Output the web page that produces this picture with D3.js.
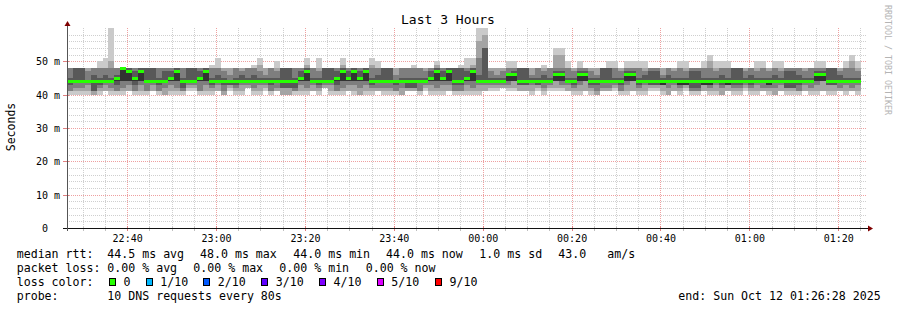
<!DOCTYPE html>
<html>
<head>
<meta charset="utf-8">
<script src="https://cdn.jsdelivr.net/npm/d3@7"></script>
<style>
  body { margin: 0; background: #fff; }
  svg { display: block; }
  text { font-family: "DejaVu Sans Mono", monospace; fill: #000; white-space: pre; }
</style>
</head>
<body>
<svg id="chart" width="897" height="310"></svg>
<script>
// window: last 3 hours, one probe round every 80s
var endTime = new Date(2025, 9, 12, 1, 26, 28);
var spanSec = 3 * 3600;
var stepSec = 80;

// 10 sorted DNS times per round (ms)
var pings = [
  "40 41 41 43 44 44 45 48 48 48", "40 41 42 44 44 44 48 48 48 48", "40 41 42 44 44 44 48 48 48 48",
  "40 41 43 44 44 44 44 47 48 48", "40 40 41 41 44 44 46 48 48 48", "40 41 42 43 44 44 45 48 48 50",
  "41 41 43 44 44 44 46 48 48 51", "40 41 42 44 44 44 45 48 50 60", "40 41 41 43 44 45 46 48 48 48",
  "40 41 42 44 44 48 48 48 48 48", "41 41 43 44 44 47 48 48 48 48", "40 41 41 43 44 45 47 48 48 48",
  "40 41 43 44 44 47 48 48 48 48", "40 41 41 44 44 44 48 48 48 48", "41 41 43 44 44 44 48 48 48 48",
  "40 41 41 43 44 44 45 48 48 48", "40 40 42 44 44 44 47 48 48 48", "40 41 43 44 44 45 47 48 48 48",
  "40 41 42 44 44 47 48 48 48 48", "40 41 41 42 44 44 45 48 48 48", "41 42 43 44 44 44 48 48 48 48",
  "41 42 43 44 44 44 48 48 48 48", "40 41 41 44 44 45 47 48 48 48", "40 41 43 44 44 47 48 48 48 48",
  "40 41 42 43 44 44 45 48 48 49", "41 41 43 44 44 44 46 48 48 51", "40 40 41 43 44 44 45 47 48 48",
  "41 42 43 43 44 44 44 46 48 48", "40 41 42 43 44 44 45 48 48 48", "40 41 43 44 44 44 46 47 48 48",
  "42 42 43 44 44 44 45 48 48 48", "40 41 42 44 44 44 46 48 48 49", "40 41 43 44 44 44 45 47 49 51",
  "41 42 43 44 44 44 45 46 48 48", "40 41 41 43 44 44 45 48 48 48", "41 41 42 44 44 44 45 47 48 50",
  "40 40 42 42 44 44 48 48 48 48", "40 40 42 42 44 44 48 48 48 48", "40 41 41 42 44 44 45 48 48 48",
  "40 41 43 44 44 45 47 48 48 48", "40 41 42 44 44 47 48 48 49 51", "41 41 43 44 44 44 45 48 48 48",
  "40 41 42 43 44 44 45 47 48 51", "42 42 43 44 44 44 48 48 48 48", "40 41 43 44 44 44 48 48 48 48",
  "40 41 41 43 44 45 47 48 48 48", "40 41 42 44 44 47 48 48 49 51", "41 41 43 44 44 45 47 48 48 48",
  "40 41 43 44 44 47 48 48 48 48", "40 40 42 44 44 45 47 48 48 48", "40 41 43 44 44 47 48 48 48 48",
  "40 41 42 43 44 44 45 48 49 51", "41 41 42 44 44 44 46 48 48 50", "40 41 42 44 44 44 48 48 48 48",
  "40 41 42 44 44 44 48 48 48 48", "40 41 41 43 44 44 44 46 48 48", "40 40 42 44 44 44 45 48 48 48",
  "41 41 42 42 44 44 45 48 48 48", "41 41 42 42 44 44 45 48 48 49", "40 41 41 44 44 44 45 48 48 48",
  "41 42 43 44 44 44 45 47 48 48", "40 41 43 44 44 45 47 48 48 48", "40 41 42 44 44 47 48 48 49 50",
  "40 41 43 44 44 45 47 48 48 48", "41 41 43 44 44 47 48 48 48 48", "40 41 41 43 44 44 48 48 48 48",
  "40 41 41 43 44 44 48 48 48 49", "40 41 43 44 44 45 47 48 48 51", "40 41 42 44 44 47 48 48 49 51",
  "40 41 43 44 44 44 46 51 56 60", "41 41 43 44 44 44 54 54 58 60", "41 42 43 44 44 44 45 47 48 48",
  "41 42 43 44 44 44 45 46 48 48", "42 42 43 44 44 44 45 47 48 48", "41 42 43 44 44 46 46 48 48 50",
  "41 42 44 44 44 46 47 48 48 50", "41 41 43 43 44 44 48 48 48 48", "41 41 43 43 44 44 48 48 48 48",
  "40 41 43 44 44 44 45 46 48 48", "41 42 43 43 44 44 45 48 48 48", "40 41 42 44 44 44 46 47 48 49",
  "41 42 43 44 44 44 45 48 48 48", "41 42 44 44 44 46 47 48 52 54", "41 42 43 44 44 46 47 48 52 54",
  "41 41 43 44 44 44 45 48 48 50", "40 41 42 43 44 44 45 47 48 48", "40 41 43 44 44 46 47 48 48 50",
  "41 41 44 44 44 46 47 48 48 48", "40 41 42 43 44 44 45 47 48 48", "40 40 41 43 44 44 45 46 48 48",
  "41 41 42 44 44 44 48 48 48 48", "41 41 42 44 44 44 48 48 48 50", "41 42 43 44 44 44 45 48 48 50",
  "40 41 41 43 44 44 45 47 48 48", "40 41 43 44 44 46 47 48 48 50", "41 41 44 44 44 46 47 48 48 50",
  "40 41 42 43 44 44 45 48 48 50", "40 41 43 44 44 44 46 47 48 50", "41 42 43 43 44 44 47 48 48 48",
  "41 42 43 43 44 44 47 48 48 48", "40 41 43 43 43 44 45 46 48 48", "40 40 42 44 44 44 46 48 48 48",
  "41 41 43 44 44 44 45 47 48 48", "40 41 42 43 43 44 45 48 48 50", "41 42 43 43 43 44 45 47 48 50",
  "40 41 41 42 44 44 47 48 48 48", "40 41 41 42 44 44 47 48 48 48", "41 41 43 43 43 44 45 48 48 50",
  "40 41 42 43 43 44 45 48 50 52", "40 41 43 44 44 44 45 47 48 50", "40 40 42 43 44 44 46 48 48 50",
  "41 41 43 43 43 44 45 48 48 50", "40 41 42 43 44 44 48 48 48 48", "40 41 42 43 44 44 48 48 48 48",
  "41 42 43 44 44 44 45 47 48 48", "40 41 42 43 44 44 46 48 48 48", "40 41 43 44 44 44 45 47 48 50",
  "41 41 42 44 44 44 45 48 48 50", "40 41 42 43 43 44 45 47 48 48", "40 40 42 44 44 44 46 48 48 50",
  "41 41 43 44 44 44 45 47 48 50", "40 41 42 42 44 44 47 48 48 48", "40 41 42 42 44 44 47 48 48 48",
  "40 41 41 43 44 44 46 48 48 48", "41 41 43 44 44 44 45 47 48 48", "40 41 42 44 44 44 45 48 48 48",
  "40 41 43 44 44 46 47 48 48 50", "41 41 44 44 44 46 47 48 48 50", "40 41 43 43 44 44 48 48 48 48",
  "40 41 43 43 44 44 48 48 48 48", "41 41 42 44 44 44 46 47 48 48", "40 41 43 44 44 44 45 48 48 50",
  "41 41 42 44 44 44 45 48 50 52", "40 41 43 44 44 44 45 47 48 50"
];

// median rtt per round (ms)
var median = [
  44, 44, 44, 44, 44, 44, 44, 44, 45, 48, 47, 45, 47, 44, 44, 44, 44, 45, 47, 44,
  44, 44, 45, 47, 44, 44, 44, 44, 44, 44, 44, 44, 44, 44, 44, 44, 44, 44, 44, 45,
  47, 44, 44, 44, 44, 45, 47, 45, 47, 45, 47, 44, 44, 44, 44, 44, 44, 44, 44, 44,
  44, 45, 47, 45, 47, 44, 44, 45, 47, 44, 44, 44, 44, 44, 46, 46, 44, 44, 44, 44,
  44, 44, 46, 46, 44, 44, 46, 46, 44, 44, 44, 44, 44, 44, 46, 46, 44, 44, 44, 44,
  44, 44, 44, 44, 44, 44, 44, 44, 44, 44, 44, 44, 44, 44, 44, 44, 44, 44, 44, 44,
  44, 44, 44, 44, 44, 44, 46, 46, 44, 44, 44, 44, 44, 44
];

var yTickValues = [0, 10, 20, 30, 40, 50];
var yTickLabels = ["0\u00a0\u00a0", "10 m", "20 m", "30 m", "40 m", "50 m"];
var xTickLabels = ["22:40", "23:00", "23:20", "23:40", "00:00", "00:20", "00:40", "01:00", "01:20"];

var rttLegend = ["44.5 ms avg", "48.0 ms max", "44.0 ms min", "44.0 ms now", "1.0 ms sd", "43.0", "am/s"];
var lossLegend = ["0.00 % avg", "0.00 % max", "0.00 % min", "0.00 % now"];
var lossLabels = ["0", "1/10", "2/10", "3/10", "4/10", "5/10", "9/10"];
var lossColors = ["#26ff00", "#00b8ff", "#0059ff", "#5e00ff", "#7e00ff", "#dd00ff", "#ff0000"];
var smokeGrays = ["#cacaca", "#a4a4a4", "#7e7e7e", "#585858", "#323232"];

var svg = d3.select("#chart");
var pL = 67, pR = 867, pT = 28, pB = 228;
var startTime = new Date(endTime.getTime() - spanSec * 1000);

var x = d3.scaleTime().domain([startTime, endTime]).range([pL, pR]);
var y = d3.scaleLinear().domain([0, 60]).range([pB, pT]);

// grid, behind everything
var grid = svg.append("g").attr("shape-rendering", "crispEdges");
var minorT = d3.timeMinute.every(5).range(startTime, endTime).filter(function(d){ return d.getMinutes() % 20 !== 0; });
var majorT = d3.timeMinute.every(20).range(startTime, endTime);
d3.range(2, 60, 2).filter(function(v){ return v % 10 !== 0; }).forEach(function(v){
  grid.append("line").attr("x1", pL).attr("x2", pR).attr("y1", Math.round(y(v)) + 0.5).attr("y2", Math.round(y(v)) + 0.5)
    .attr("stroke", "#cfcfcf").attr("stroke-dasharray", "1,1");
});
minorT.forEach(function(d){
  grid.append("line").attr("x1", Math.round(x(d)) + 0.5).attr("x2", Math.round(x(d)) + 0.5).attr("y1", pT).attr("y2", pB)
    .attr("stroke", "#cfcfcf").attr("stroke-dasharray", "1,1");
});
yTickValues.slice(1).forEach(function(v){
  grid.append("line").attr("x1", pL).attr("x2", pR).attr("y1", Math.round(y(v)) + 0.5).attr("y2", Math.round(y(v)) + 0.5)
    .attr("stroke", "#eea0a0").attr("stroke-dasharray", "1,1");
});
majorT.forEach(function(d){
  grid.append("line").attr("x1", Math.round(x(d)) + 0.5).attr("x2", Math.round(x(d)) + 0.5).attr("y1", pT).attr("y2", pB)
    .attr("stroke", "#eea0a0").attr("stroke-dasharray", "1,1");
});

// smoke bands and median
var rows = pings.map(function(s, i){
  return { t: new Date(startTime.getTime() + i * stepSec * 1000), v: s.split(" ").map(Number), m: median[i] };
});
var lastRow = rows[rows.length - 1];
rows.push({ t: new Date(lastRow.t.getTime() + stepSec * 1000), v: lastRow.v, m: lastRow.m });

var plot = svg.append("g").attr("shape-rendering", "crispEdges");
smokeGrays.forEach(function(col, b){
  var area = d3.area()
    .x(function(d){ return x(d.t); })
    .y0(function(d){ return y(d.v[b]); })
    .y1(function(d){ return y(d.v[9 - b]); })
    .curve(d3.curveStepAfter);
  plot.append("path").datum(rows).attr("d", area).attr("fill", col);
});
var medArea = d3.area()
  .x(function(d){ return x(d.t); })
  .y0(function(d){ return y(d.m) + 1.5; })
  .y1(function(d){ return y(d.m) - 1.5; })
  .curve(d3.curveStepAfter);
plot.append("path").datum(rows).attr("d", medArea).attr("fill", lossColors[0]);

// axes
var ax = svg.append("g").attr("shape-rendering", "crispEdges");
minorT.forEach(function(d){
  ax.append("line").attr("x1", Math.round(x(d)) + 0.5).attr("x2", Math.round(x(d)) + 0.5).attr("y1", pB - 1).attr("y2", pB + 3).attr("stroke", "#c0c0c0");
});
majorT.forEach(function(d){
  ax.append("line").attr("x1", Math.round(x(d)) + 0.5).attr("x2", Math.round(x(d)) + 0.5).attr("y1", pB - 2).attr("y2", pB + 3).attr("stroke", "#e08080");
});
yTickValues.forEach(function(v){
  ax.append("line").attr("x1", pL - 4).attr("x2", pL + 2).attr("y1", Math.round(y(v)) + 0.5).attr("y2", Math.round(y(v)) + 0.5).attr("stroke", v === 0 ? "#222" : "#e08080");
});
ax.append("line").attr("x1", pL - 4).attr("x2", pR + 2).attr("y1", pB + 0.5).attr("y2", pB + 0.5).attr("stroke", "#111");
ax.append("line").attr("x1", pL + 0.5).attr("x2", pL + 0.5).attr("y1", pB + 3).attr("y2", pT - 4).attr("stroke", "#555");
svg.append("path").attr("d", "M" + (pL - 2.5) + "," + (pT - 2) + "L" + (pL + 0.5) + "," + (pT - 7) + "L" + (pL + 3.5) + "," + (pT - 2) + "Z").attr("fill", "#7f0000");
svg.append("path").attr("d", "M" + (pR + 1) + "," + (pB - 2.5) + "L" + (pR + 6) + "," + (pB + 0.5) + "L" + (pR + 1) + "," + (pB + 3.5) + "Z").attr("fill", "#7f0000");

var xTickTimes = xTickLabels.map(function(s){
  var hm = s.split(":").map(Number);
  var day = hm[0] >= 12 ? 11 : 12;
  return new Date(2025, 9, day, hm[0], hm[1], 0);
});
var xAxis = d3.axisBottom(x).tickValues(xTickTimes).tickSize(0).tickPadding(0)
  .tickFormat(function(d, i){ return xTickLabels[i]; });
var gx = svg.append("g").attr("transform", "translate(0," + (pB + 14) + ")").call(xAxis);
gx.select(".domain").remove();
gx.selectAll("text").attr("dy", null).attr("y", 0)
  .attr("font-family", "DejaVu Sans Mono").attr("font-size", "10px").attr("fill", "#000");

var yAxis = d3.axisLeft(y).tickValues(yTickValues).tickSize(0).tickPadding(0)
  .tickFormat(function(d, i){ return yTickLabels[i]; });
var gy = svg.append("g").attr("transform", "translate(60,0)").call(yAxis);
gy.select(".domain").remove();
gy.selectAll("text").attr("x", 0).attr("dy", "0.35em")
  .attr("font-family", "DejaVu Sans Mono").attr("font-size", "10px").attr("fill", "#000");

// titles
svg.append("text").attr("x", 448).attr("y", 24).attr("text-anchor", "middle").attr("font-size", "13px").text("Last 3 Hours");
svg.append("text").attr("transform", "translate(15,127) rotate(-90)").attr("text-anchor", "middle").attr("font-size", "11.5px").text("Seconds");
svg.append("text").attr("transform", "translate(885,5) rotate(90)").attr("font-size", "8.3px").style("fill", "#b4b4b4").text("RRDTOOL / TOBI OETIKER");

// legend
var lg = svg.append("g").attr("font-size", "11.6px");
var lineY = [258, 272, 286, 300];
lg.append("text").attr("x", 16.7).attr("y", lineY[0]).text("median rtt:");
[107.3, 200, 293.3, 386, 479.3, 558.3, 607.3].forEach(function(px, i){
  lg.append("text").attr("x", px).attr("y", lineY[0]).text(rttLegend[i]);
});
lg.append("text").attr("x", 16.7).attr("y", lineY[1]).text("packet loss:");
[107.3, 193.3, 279.3, 365.7].forEach(function(px, i){
  lg.append("text").attr("x", px).attr("y", lineY[1]).text(lossLegend[i]);
});
lg.append("text").attr("x", 16.7).attr("y", lineY[2]).text("loss color:");
var swX = [109, 145.7, 203.3, 261.2, 319, 376.7, 435];
lossLabels.forEach(function(lab, i){
  lg.append("rect").attr("x", swX[i] + 0.5).attr("y", 278.5).attr("width", 6).attr("height", 7)
    .attr("fill", lossColors[i]).attr("stroke", "#000").attr("shape-rendering", "crispEdges");
  lg.append("text").attr("x", swX[i] + 14.5).attr("y", lineY[2]).text(lab);
});
lg.append("text").attr("x", 16.7).attr("y", lineY[3]).text("probe:");
lg.append("text").attr("x", 107.3).attr("y", lineY[3]).text("10 DNS requests every 80s");
lg.append("text").attr("x", 880.7).attr("y", lineY[3]).attr("text-anchor", "end").text("end: Sun Oct 12 01:26:28 2025");
</script>
</body>
</html>
